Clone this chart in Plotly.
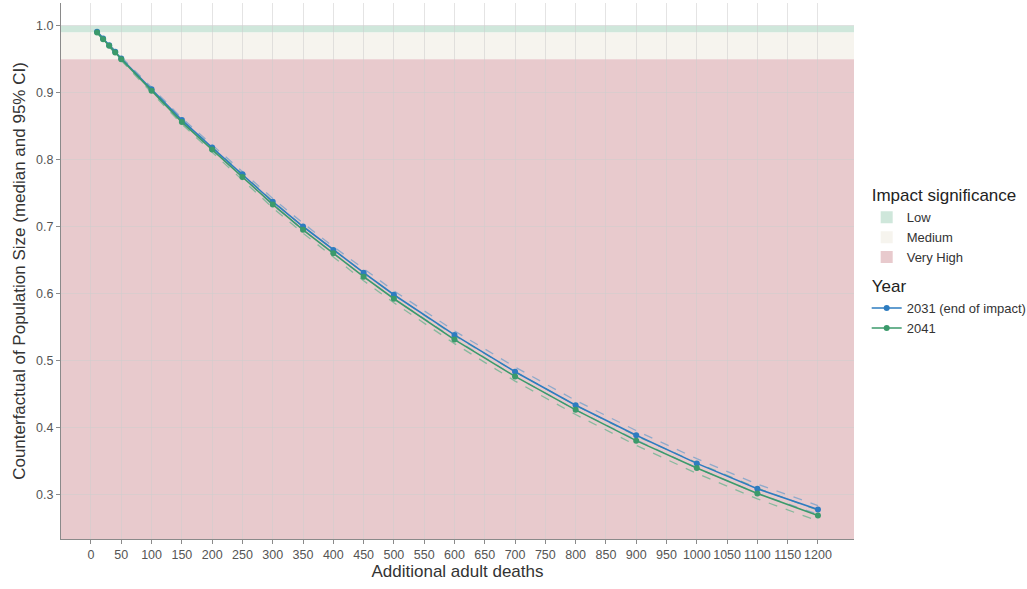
import plotly.graph_objects as go

# ---- data ----
deaths = [10, 20, 30, 40, 50, 100, 150, 200, 250, 300, 350, 400, 450, 500,
          600, 700, 800, 900, 1000, 1100, 1200]

median_2031 = [0.991, 0.981, 0.971, 0.961, 0.951, 0.905, 0.859, 0.818, 0.778, 0.737,
               0.700, 0.665, 0.631, 0.598, 0.538, 0.483, 0.433, 0.388, 0.346, 0.308, 0.277]
upper_2031 = [0.992, 0.982, 0.9725, 0.963, 0.953, 0.908, 0.862, 0.822, 0.782, 0.742,
              0.705, 0.670, 0.637, 0.604, 0.544, 0.490, 0.440, 0.395, 0.353, 0.315, 0.283]
lower_2031 = [0.990, 0.980, 0.9695, 0.959, 0.949, 0.902, 0.856, 0.814, 0.774, 0.732,
              0.695, 0.660, 0.625, 0.592, 0.532, 0.476, 0.426, 0.381, 0.339, 0.301, 0.270]

median_2041 = [0.990, 0.980, 0.970, 0.960, 0.950, 0.903, 0.856, 0.815, 0.774, 0.733,
               0.695, 0.660, 0.625, 0.592, 0.531, 0.476, 0.426, 0.380, 0.339, 0.301, 0.268]
upper_2041 = [0.991, 0.981, 0.9715, 0.962, 0.952, 0.906, 0.859, 0.819, 0.778, 0.738,
              0.700, 0.665, 0.631, 0.598, 0.537, 0.483, 0.433, 0.387, 0.347, 0.309, 0.276]
lower_2041 = [0.989, 0.979, 0.9685, 0.958, 0.948, 0.900, 0.853, 0.811, 0.770, 0.728,
              0.690, 0.655, 0.619, 0.586, 0.525, 0.469, 0.419, 0.373, 0.331, 0.293, 0.260]

band_names = ["Low", "Medium", "Very High"]
band_lower = [0.99, 0.95, None]   # None -> bottom of panel
band_upper = [1.0, 0.99, 0.95]
band_colors = ["#cfe7db", "#f6f4ee", "#e8cacd"]

x_ticks = list(range(0, 1201, 50))
y_ticks = [0.3, 0.4, 0.5, 0.6, 0.7, 0.8, 0.9, 1.0]

x_range = [-49.5, 1259.5]
y_range = [0.233, 1.034]

blue = "#2e7cc0"
green = "#3b9a6b"
blue_light = "#8eaacb"
green_light = "#86b99d"

fig = go.Figure()

# bands as shapes with legend entries
for i, (nm, lo, hi, col) in enumerate(zip(band_names, band_lower, band_upper, band_colors)):
    shp = dict(type="rect", xref="x domain", yref="y", x0=0, x1=1,
               y0=(lo if lo is not None else y_range[0]), y1=hi,
               fillcolor=col, line=dict(width=0), layer="below",
               showlegend=True, name=nm, legendgroup="impact", legendrank=i + 1)
    if i == 0:
        shp["legendgrouptitle"] = dict(text="Impact significance",
                                       font=dict(size=17, color="#222"))
    fig.add_shape(**shp)

# CI dashed lines
for ys, col in [(upper_2031, blue_light), (lower_2031, blue_light),
                (upper_2041, green_light), (lower_2041, green_light)]:
    fig.add_trace(go.Scatter(x=deaths, y=ys, mode="lines",
                             line=dict(color=col, width=1.3, dash="dash"),
                             showlegend=False, hoverinfo="skip"))

fig.add_trace(go.Scatter(x=deaths, y=median_2031, mode="lines+markers",
                         name="2031 (end of impact)", legendgroup="year", legendrank=4,
                         legendgrouptitle=dict(text="Year", font=dict(size=17, color="#222")),
                         line=dict(color=blue, width=1.6),
                         marker=dict(color=blue, size=6)))
fig.add_trace(go.Scatter(x=deaths, y=median_2041, mode="lines+markers",
                         name="2041", legendgroup="year", legendrank=5,
                         line=dict(color=green, width=1.6),
                         marker=dict(color=green, size=6)))

axis_common = dict(showline=True, linecolor="#8a8a8a", linewidth=1,
                   ticks="outside", ticklen=4, tickcolor="#8a8a8a",
                   showgrid=True, gridcolor="rgba(205,205,205,0.55)", gridwidth=1,
                   zeroline=False, tickfont=dict(size=12.5, color="#555"))

fig.update_xaxes(range=x_range, tickvals=x_ticks, ticktext=[str(v) for v in x_ticks],
                 tickangle=0,
                 title=dict(text="Additional adult deaths", font=dict(size=17, color="#333"),
                            standoff=4),
                 **axis_common)
fig.update_yaxes(range=y_range, tickvals=y_ticks, tickformat=".1f",
                 title=dict(text="Counterfactual of Population Size (median and 95% CI)",
                            font=dict(size=17, color="#333"), standoff=6),
                 **axis_common)

fig.update_layout(
    width=1027, height=589,
    margin=dict(l=61, r=173, t=3, b=50, autoexpand=False),
    paper_bgcolor="white", plot_bgcolor="white",
    font=dict(family="Liberation Sans, Arial, sans-serif", color="#333"),
    legend=dict(x=1.016, xanchor="left", y=0.675, yanchor="top",
                font=dict(size=13, color="#333"), tracegroupgap=6,
                itemwidth=30, bgcolor="rgba(0,0,0,0)"),
)

fig.write_html("out.html", config={"displayModeBar": False},
               post_script="document.body.style.margin='0px';document.body.style.overflow='hidden';")
